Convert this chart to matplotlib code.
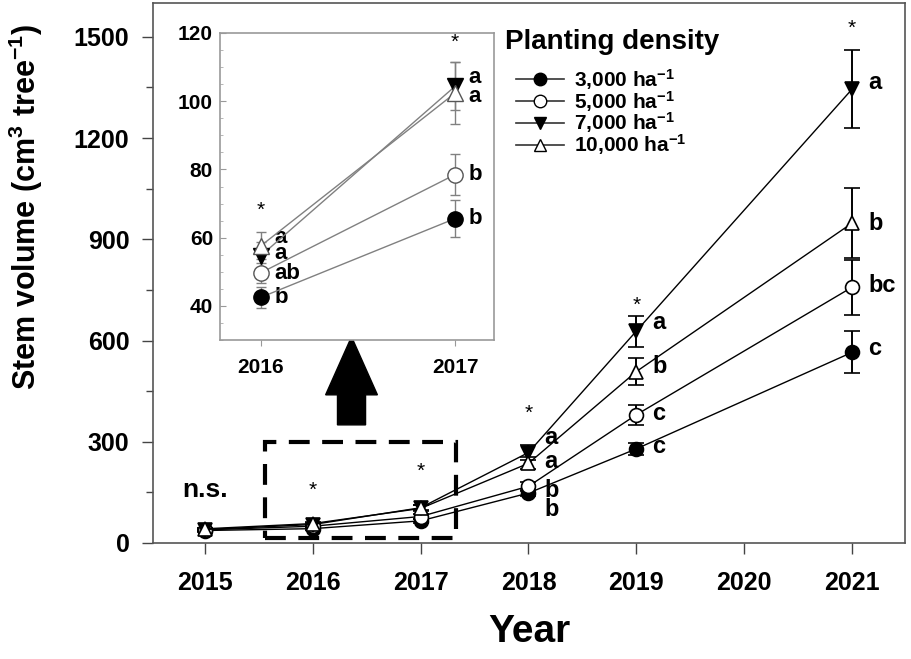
import matplotlib
matplotlib.use("Agg")
import matplotlib.pyplot as plt
from matplotlib.lines import Line2D
from matplotlib.patches import Rectangle, FancyArrow
from matplotlib.ticker import MultipleLocator

plt.rcParams['font.family'] = ['Liberation Sans', 'DejaVu Sans']
plt.rcParams['font.weight'] = 'bold'
plt.rcParams['mathtext.fontset'] = 'custom'
plt.rcParams['mathtext.rm'] = 'Liberation Sans:bold'
plt.rcParams['mathtext.it'] = 'Liberation Sans:bold'
plt.rcParams['mathtext.bf'] = 'Liberation Sans:bold'
plt.rcParams['mathtext.default'] = 'rm'

# ---------------- data ----------------
years = [2015, 2016, 2017, 2018, 2019, 2021]
series_labels = ['3,000 ha$^{-1}$', '5,000 ha$^{-1}$', '7,000 ha$^{-1}$', '10,000 ha$^{-1}$']
v3000 = [37, 42.5, 65.6, 148, 279, 565]
v5000 = [39, 49.7, 78.5, 168, 380, 758]
v7000 = [40, 54.7, 104.4, 268, 628, 1345]
v10000 = [42, 57.6, 102.4, 236, 508, 948]
e3000 = [3, 3, 5.5, 10, 18, 62]
e5000 = [3, 3, 6, 14, 30, 82]
e7000 = [3, 4, 7, 22, 46, 115]
e10000 = [3, 4, 9, 18, 41, 105]

# significance letters (main): year -> list of (letter, y)
main_letters = {
    2018: [('a', 314), ('a', 240), ('b', 157), ('b', 98)],
    2019: [('a', 652), ('b', 522), ('c', 385), ('c', 285)],
    2021: [('a', 1364), ('b', 946), ('bc', 762), ('c', 575)],
}
main_stars = {2016: 157, 2017: 213, 2018: 385, 2019: 703, 2021: 1524}
inset_letters = {
    2016: [('a', 60), ('a', 55.3), ('ab', 49.4), ('b', 42.4)],
    2017: [('a', 107), ('a', 101.5), ('b', 78.5), ('b', 65.6)],
}
inset_stars = {2016: 67.9, 2017: 117.4}

values = [v3000, v5000, v7000, v10000]
errors = [e3000, e5000, e7000, e10000]
markers = ['o', 'o', 'v', '^']
faces = ['black', 'white', 'black', 'white']

# ---------------- figure ----------------
fig = plt.figure(figsize=(9.11, 6.59), dpi=100)
ax = fig.add_axes([153/911, 1-543/659, (905-153)/911, (543-3)/659])

for v, e, m, fc in zip(values, errors, markers, faces):
    ax.errorbar(years, v, yerr=e, color='black', lw=1.0, elinewidth=1.4,
                capsize=6, capthick=1.4, marker=m, markersize=10,
                markerfacecolor=fc, markeredgecolor='black', markeredgewidth=1.2, zorder=3)

ax.set_xlim(2014.52, 2021.49)
ax.set_ylim(0, 1600)
ax.set_xticks([2015, 2016, 2017, 2018, 2019, 2020, 2021])
ax.set_yticks([0, 300, 600, 900, 1200, 1500])
ax.yaxis.set_minor_locator(MultipleLocator(150))
ax.tick_params(axis='both', which='major', direction='out', length=8, width=1,
               labelsize=18, color='#444444')
ax.tick_params(axis='y', which='minor', direction='out', length=5, width=1, color='#444444')
ax.tick_params(axis='x', pad=12)
ax.tick_params(axis='y', pad=9)
for lab in ax.get_xticklabels() + ax.get_yticklabels():
    lab.set_fontweight('bold')
for s in ax.spines.values():
    s.set_color('#555555')
    s.set_linewidth(1.2)

ax.set_xlabel('Year', fontsize=28, fontweight='bold', labelpad=14)
ax.set_ylabel('Stem volume (cm$^3$ tree$^{-1}$)', fontsize=22, fontweight='bold')
ax.yaxis.set_label_coords(-0.143, 0.622)

for yr, items in main_letters.items():
    for txt, yv in items:
        ax.text(yr + 0.15, yv, txt, fontsize=17, fontweight='bold', ha='left', va='center')
for yr, yv in main_stars.items():
    ax.text(yr, yv, '*', fontsize=15, fontweight='normal', ha='center', va='center')
ax.text(2015, 157, 'n.s.', fontsize=19, fontweight='bold', ha='center', va='center')

# dashed zoom box
ax.add_patch(Rectangle((2015.557, 15), 2017.33 - 2015.557, 299 - 15, fill=False,
                       edgecolor='black', lw=3, linestyle=(0, (5, 3)), zorder=4))
# big arrow
ax.add_patch(FancyArrow(2016.36, 350, 0, 261, width=0.26, head_width=0.48,
                        head_length=172, length_includes_head=True,
                        color='black', zorder=4))

# legend
fig.text(505/911, 1-42/659, 'Planting density', fontsize=20, fontweight='bold',
         ha='left', va='center')
handles = [Line2D([0], [0], color='#333333', lw=1.2, marker=m, markersize=9,
                  markerfacecolor=fc, markeredgecolor='black')
           for m, fc in zip(markers, faces)]
leg = ax.legend(handles, series_labels, loc='upper left',
                bbox_to_anchor=(516/911, 1-67/659), bbox_transform=fig.transFigure,
                frameon=False, fontsize=15, handlelength=2.3, handletextpad=0.5,
                labelspacing=-0.15, borderpad=0, borderaxespad=0)
for t in leg.get_texts():
    t.set_fontweight('bold')

# ---------------- inset ----------------
ins = fig.add_axes([220/911, 1-340/659, (494-220)/911, (340-33)/659])
for v, e, m, fc in zip(values, errors, markers, faces):
    ec = 'black' if fc == 'black' else '#555555'
    ins.errorbar(years[1:3], v[1:3], yerr=e[1:3], color='#808080', lw=1.0,
                 elinewidth=1.0, capsize=3.5, capthick=1.0, marker=m, markersize=11,
                 markerfacecolor=fc, markeredgecolor=ec, markeredgewidth=1.0,
                 ecolor='#808080', zorder=3)
ins.set_xlim(2015.79, 2017.2)
ins.set_ylim(30, 120)
ins.set_xticks([2016, 2017])
ins.set_yticks([40, 60, 80, 100, 120])
ins.yaxis.set_minor_locator(MultipleLocator(5))
ins.tick_params(axis='x', direction='out', length=4, color='#999999', labelsize=15, pad=9)
ins.tick_params(axis='y', which='major', direction='in', length=4, color='#999999',
                labelsize=15, pad=5)
ins.tick_params(axis='y', which='minor', direction='in', length=2, color='#aaaaaa')
for lab in ins.get_xticklabels() + ins.get_yticklabels():
    lab.set_fontweight('bold')
for s in ins.spines.values():
    s.set_color('#999999')
    s.set_linewidth(1.2)
for yr, items in inset_letters.items():
    for txt, yv in items:
        ins.text(yr + 0.07, yv, txt, fontsize=16, fontweight='bold', ha='left', va='center')
for yr, yv in inset_stars.items():
    ins.text(yr, yv, '*', fontsize=15, fontweight='normal', ha='center', va='center')

fig.savefig('out.png', dpi=100)
